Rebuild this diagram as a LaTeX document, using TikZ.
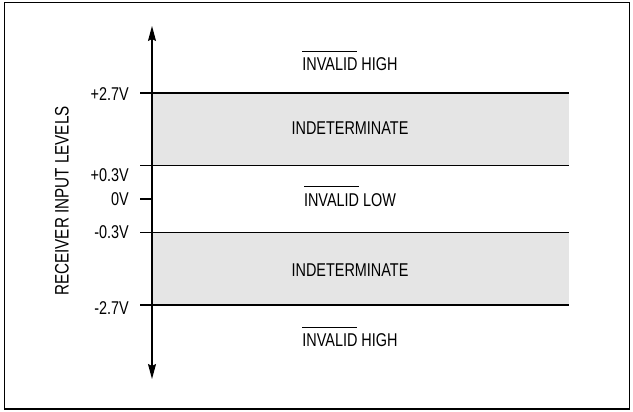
\documentclass[tikz,border=0pt]{standalone}
\usepackage{fontspec}
\setmainfont[FakeStretch=0.78]{Liberation Sans}
\usetikzlibrary{arrows.meta}
\definecolor{bandgray}{gray}{0.9}
\tikzset{
  lvl/.style={line width=1.3pt},
  band/.style={fill=bandgray},
  val/.style={left,inner sep=0pt,font=\fontsize{18.5}{18.5}\selectfont},
  zone/.style={inner sep=0pt,font=\fontsize{18.5}{18.5}\selectfont},
  axis/.style={line width=1.2pt,{Stealth[length=15pt,width=8pt,inset=2pt]}-{Stealth[length=15pt,width=8pt,inset=2pt]}}
}
\newcommand{\barred}[1]{\setbox0\hbox{#1}\rlap{\smash{\raisebox{\dimexpr\ht0+6.5pt\relax}{\rule{\wd0}{1pt}}}}\box0\relax}

\begin{document}
\begin{tikzpicture}[x=1pt,y=-1pt]
  \useasboundingbox (0,0) rectangle (633,412);
  \draw[line width=1.6pt] (4.5,2.5) rectangle (629.5,409);

  % shaded bands
  \fill[band] (152,93) rectangle (569,165.5);
  \fill[band] (152,232.5) rectangle (569,305);

  % levels
  \foreach \y/\v/\dy/\nm in {93/+2.7V/1/hi, 165.5/+0.3V/10/hz, 232.5/-0.3V/0/lz, 305/-2.7V/3/lo}{
    \coordinate (\nm-t) at (140,\y);
    \coordinate (\nm-e) at (569,\y);
    \node[val] (\nm) at (129,\y+\dy) {\v};
    \draw[lvl] (\nm-t) -- (\nm-e);
  }
  \coordinate (zero-t) at (140,199);
  \coordinate (zero-e) at (152,199);
  \node[val] (zero) at (129,199) {0V};
  \draw[lvl] (zero-t) -- (zero-e);

  \coordinate (top) at (152,26);
  \coordinate (bot) at (152,379);
  \draw[axis] (bot) -- (top);

  \node[zone] (ih1) at (350,64.5) {\barred{INVALID} HIGH};
  \node[zone] (ind1) at (350,128) {INDETERMINATE};
  \node[zone] (il) at (350,200) {\barred{INVALID} LOW};
  \node[zone] (ind2) at (350,270) {INDETERMINATE};
  \node[zone] (ih2) at (350,340.5) {\barred{INVALID} HIGH};

  \node[zone,rotate=90,font=\fontsize{19.5}{19.5}\selectfont] (ylab) at (62,201) {RECEIVER INPUT LEVELS};
\end{tikzpicture}
\end{document}
